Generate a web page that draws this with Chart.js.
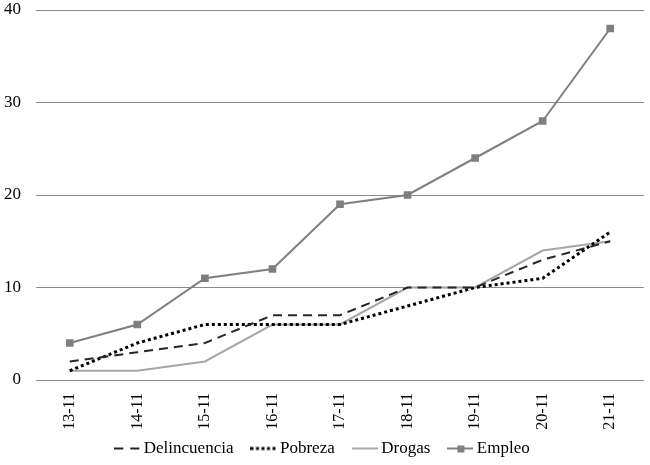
<!DOCTYPE html>
<html><head><meta charset="utf-8">
<script src="https://cdn.jsdelivr.net/npm/chart.js@4/dist/chart.umd.min.js"></script>
<style>html,body{margin:0;padding:0;background:#fff}#wrap{width:650px;height:465px}</style>
</head><body><div id="wrap"><canvas id="c"></canvas></div>
<script>
const categories = ['13-11','14-11','15-11','16-11','17-11','18-11','19-11','20-11','21-11'];
const delincuencia = [2,3,4,7,7,10,10,13,15];
const pobreza = [1,4,6,6,6,8,10,11,16];
const drogas = [1,1,2,6,6,10,10,14,15];
const empleo = [4,6,11,12,19,20,24,28,38];
const yTicks = [0,10,20,30,40];

function icon(kind){
  const cv=document.createElement('canvas'); cv.width=26; cv.height=10;
  const x=cv.getContext('2d');
  x.beginPath(); x.moveTo(0,5); x.lineTo(26,5);
  if(kind==='dash'){x.setLineDash([9,7]);x.strokeStyle='#222';x.lineWidth=2.2;}
  else if(kind==='dot'){x.setLineDash([3,2.5]);x.strokeStyle='#000';x.lineWidth=3;}
  else if(kind==='light'){x.strokeStyle='#a6a6a6';x.lineWidth=2;}
  else {x.strokeStyle='#808080';x.lineWidth=2;}
  x.stroke();
  if(kind==='sq'){x.fillStyle='#808080';x.fillRect(10,2,7,7);}
  return cv;
}
const icons=[icon('dash'),icon('dot'),icon('light'),icon('sq')];

const legendHeight={id:'legendHeight',beforeInit(chart){
  const f=chart.legend.fit;
  chart.legend.fit=function(){f.call(this);this.height=47;};
}};

new Chart(document.getElementById('c'),{
  type:'line',
  data:{labels:categories,datasets:[
    {label:'Delincuencia',data:delincuencia,borderColor:'#262626',borderWidth:2,borderDash:[9,6],pointRadius:0,tension:0},
    {label:'Pobreza',data:pobreza,borderColor:'#000',borderWidth:3,borderDash:[3,3],pointRadius:0,tension:0},
    {label:'Drogas',data:drogas,borderColor:'#a6a6a6',borderWidth:2,pointRadius:0,tension:0},
    {label:'Empleo',data:empleo,borderColor:'#7f7f7f',backgroundColor:'#7f7f7f',borderWidth:2,pointStyle:'rect',pointRadius:4,tension:0}
  ]},
  plugins:[legendHeight],
  options:{
    responsive:true,maintainAspectRatio:false,animation:false,
    layout:{padding:{left:4,right:5,top:10,bottom:0}},
    plugins:{tooltip:{enabled:false},
      legend:{position:'bottom',labels:{usePointStyle:true,pointStyleWidth:16,padding:22,color:'#000',
        font:{family:'Liberation Serif',size:17},
        generateLabels:(chart)=>chart.data.datasets.map((d,i)=>({text:d.label,pointStyle:icons[i],fillStyle:'#000',strokeStyle:'#000',lineWidth:0,datasetIndex:i,fontColor:'#000'}))}}},
    scales:{
      x:{offset:true,grid:{display:false,drawTicks:false},border:{display:false},
        afterFit:(s)=>{s.height=38;s.paddingLeft=0;s.paddingRight=0;},
        afterUpdate:(s)=>{s._computeLabelArea=()=>undefined;},
        ticks:{minRotation:90,maxRotation:90,padding:13,color:'#000',font:{family:'Liberation Serif',size:16}}},
      y:{min:0,max:40,afterBuildTicks:(s)=>{s.ticks=yTicks.map(v=>({value:v}));},
        afterFit:(s)=>{s.width=32;s.paddingTop=0;s.paddingBottom=0;},
        grid:{color:'#8a8a8a',lineWidth:1,drawTicks:false},border:{display:false},
        ticks:{padding:15,color:'#000',font:{family:'Liberation Serif',size:17}}}
    }
  }
});
</script></body></html>
